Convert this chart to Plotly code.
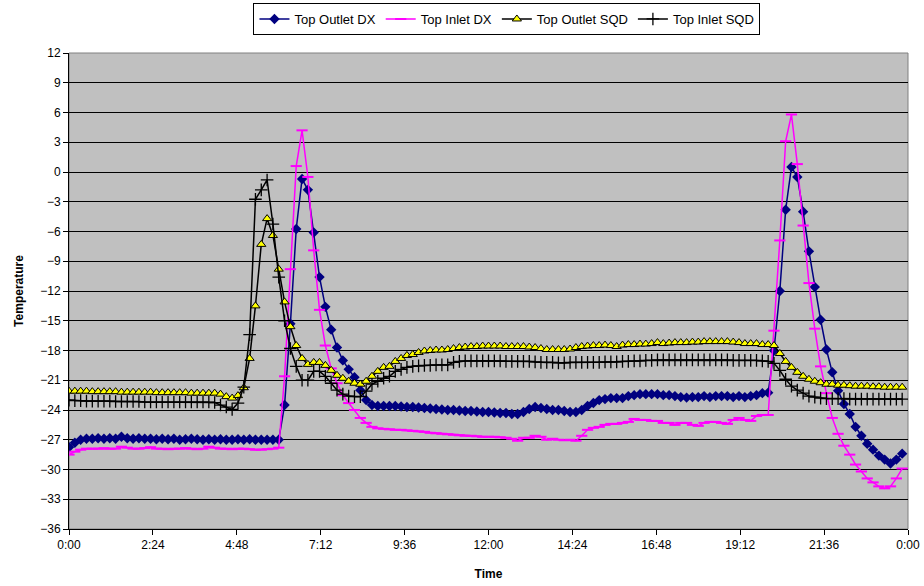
import plotly.graph_objects as go

# Time axis labels (hours -> label)
tick_hours = [0, 2.4, 4.8, 7.2, 9.6, 12.0, 14.4, 16.8, 19.2, 21.6, 24.0]
tick_labels = ["0:00", "2:24", "4:48", "7:12", "9:36", "12:00", "14:24", "16:48", "19:12", "21:36", "0:00"]

# samples every 10 minutes, 0:00 .. 23:50
times = [i * 10 / 60 for i in range(144)]

top_outlet_dx = [
    -27.75, -27.3, -27.0, -26.9, -26.9, -26.85, -26.9, -26.85, -26.9, -26.7,
    -26.85, -26.9, -26.85, -26.9, -26.9, -26.95, -26.9, -26.95, -26.9, -27.0,
    -26.95, -26.9, -26.95, -27.0, -26.95, -27.0, -26.95, -27.0, -27.0, -26.95,
    -27.0, -26.95, -27.0, -27.0, -27.0, -27.0, -27.0, -23.5, -15.3, -5.75,
    -0.7, -1.8, -6.1, -10.6, -13.6, -15.9, -17.7, -19.0, -19.9, -20.7,
    -22.0, -23.0, -23.5, -23.6, -23.6, -23.6, -23.6, -23.65, -23.7, -23.7,
    -23.75, -23.8, -23.85, -23.9, -23.95, -24.0, -24.0, -24.05, -24.1, -24.1,
    -24.15, -24.2, -24.2, -24.25, -24.3, -24.3, -24.4, -24.4, -24.2, -23.9,
    -23.7, -23.8, -23.9, -24.0, -24.0, -24.1, -24.2, -24.2, -24.0, -23.6,
    -23.3, -23.0, -22.9, -22.8, -22.8, -22.8, -22.6, -22.5, -22.4, -22.4,
    -22.4, -22.4, -22.5, -22.5, -22.6, -22.7, -22.75, -22.7, -22.7, -22.6,
    -22.7, -22.6, -22.6, -22.6, -22.7, -22.6, -22.7, -22.6, -22.5, -22.3,
    -22.25, -18.0, -12.0, -3.8, 0.5, -0.5, -4.0, -8.0, -11.6, -14.9,
    -17.9, -20.2, -22.05, -23.4, -24.4, -25.7, -26.6, -27.4, -28.0, -28.6,
    -29.0, -29.4, -29.0, -28.4,
]

top_inlet_dx = [
    -28.5, -28.2, -28.0, -27.9, -27.9, -27.9, -27.85, -27.9, -27.9, -27.7,
    -27.8, -27.9, -27.9, -27.85, -27.75, -27.9, -27.9, -27.95, -27.9, -27.9,
    -27.85, -27.9, -27.95, -27.9, -27.7, -27.8, -27.9, -27.9, -27.95, -27.9,
    -27.9, -27.95, -28.0, -28.0, -27.95, -27.9, -27.8, -20.6, -9.8, 0.6,
    4.2, -0.5, -7.9, -13.9, -17.5, -19.8, -21.3, -22.5, -23.3, -24.0,
    -24.8, -25.3, -25.7, -25.85, -25.9, -25.95, -26.0, -26.0, -26.05, -26.1,
    -26.15, -26.2, -26.3, -26.35, -26.4, -26.45, -26.5, -26.55, -26.6, -26.6,
    -26.65, -26.7, -26.7, -26.7, -26.75, -26.8, -26.9, -27.1, -26.8, -26.8,
    -26.6, -26.7, -27.0, -26.9, -27.0, -27.05, -27.0, -27.1, -26.6, -26.0,
    -25.8, -25.7, -25.5, -25.4, -25.4, -25.3, -25.2, -24.9, -25.0, -25.0,
    -25.1, -25.1, -25.3, -25.3, -25.5, -25.3, -25.3, -25.5, -25.6, -25.3,
    -25.2, -25.2, -25.3, -25.4, -25.0, -24.8, -25.0, -25.1, -24.6, -24.5,
    -24.5, -16.0, -6.9, 3.1, 5.8, 0.8, -5.4, -11.2, -15.8, -19.6,
    -22.3, -24.8, -26.4, -27.6, -28.5, -29.5, -30.2, -30.9, -31.3, -31.7,
    -31.9, -31.7, -30.9, -29.9,
]

top_outlet_sqd = [
    -22.1, -22.1, -22.1, -22.1, -22.15, -22.15, -22.15, -22.15, -22.15, -22.2,
    -22.2, -22.2, -22.2, -22.2, -22.2, -22.25, -22.25, -22.25, -22.25, -22.25,
    -22.25, -22.3, -22.3, -22.3, -22.3, -22.3, -22.4, -22.65, -22.8, -22.55,
    -21.75, -18.8, -13.5, -7.3, -4.7, -6.4, -9.8, -13.1, -15.6, -17.5,
    -18.8, -19.4, -19.2, -19.2, -19.5, -20.0, -20.5, -20.8, -21.1, -21.3,
    -21.4, -21.1, -20.6, -20.1, -19.7, -19.6, -19.1, -18.8, -18.5, -18.4,
    -18.2, -18.05, -18.0, -17.95, -17.95, -17.9, -17.8, -17.7, -17.65, -17.6,
    -17.6, -17.55, -17.55, -17.55, -17.55, -17.6, -17.6, -17.6, -17.6, -17.65,
    -17.7, -17.8, -17.9, -17.9, -17.9, -17.9, -17.85, -17.7, -17.6, -17.55,
    -17.5, -17.5, -17.45, -17.5, -17.6, -17.45, -17.4, -17.4, -17.35, -17.35,
    -17.3, -17.2, -17.3, -17.25, -17.2, -17.2, -17.2, -17.15, -17.15, -17.1,
    -17.1, -17.1, -17.1, -17.1, -17.15, -17.2, -17.3, -17.3, -17.3, -17.4,
    -17.4, -17.5, -18.3, -19.1, -19.7, -20.2, -20.6, -20.9, -21.1, -21.25,
    -21.4, -21.4, -21.5, -21.5, -21.55, -21.6, -21.6, -21.6, -21.65, -21.65,
    -21.7, -21.7, -21.7, -21.7,
]

top_inlet_sqd = [
    -23.0, -23.05, -23.05, -23.1, -23.1, -23.1, -23.1, -23.1, -23.15, -23.15,
    -23.15, -23.15, -23.15, -23.2, -23.2, -23.2, -23.2, -23.2, -23.2, -23.2,
    -23.2, -23.2, -23.2, -23.2, -23.2, -23.25, -23.5, -23.7, -23.95, -23.3,
    -21.7, -16.4, -2.75, -1.8, -0.8, -5.25, -10.6, -15.0, -17.8, -19.6,
    -21.0, -21.0, -20.1, -20.1, -20.6, -21.3, -22.0, -22.4, -22.6, -22.65,
    -22.65, -22.1, -21.4, -21.1, -20.8, -20.6, -20.1, -19.9, -19.7, -19.6,
    -19.55, -19.5, -19.5, -19.45, -19.45, -19.45, -19.2, -19.1, -19.05, -19.05,
    -19.05, -19.05, -19.05, -19.05, -19.05, -19.1, -19.1, -19.1, -19.1, -19.1,
    -19.15, -19.2, -19.2, -19.2, -19.25, -19.25, -19.2, -19.2, -19.2, -19.2,
    -19.2, -19.2, -19.15, -19.15, -19.15, -19.1, -19.1, -19.05, -19.05, -19.0,
    -19.0, -18.95, -18.95, -18.95, -18.95, -18.95, -18.95, -18.95, -18.95, -18.95,
    -18.95, -18.95, -18.95, -18.95, -19.0, -19.0, -19.0, -19.0, -19.0, -19.05,
    -19.1, -19.3, -20.0, -20.9, -21.6, -22.0, -22.3, -22.6, -22.7, -22.8,
    -22.85, -22.85, -22.85, -22.85, -22.9, -22.9, -22.9, -22.9, -22.9, -22.9,
    -22.9, -22.9, -22.9, -22.9,
]

FONT = "Liberation Sans, Arial, sans-serif"

fig = go.Figure()
fig.add_trace(go.Scatter(
    x=times, y=top_outlet_dx, name="Top Outlet DX", mode="lines+markers",
    line=dict(color="#000080", width=1.5),
    marker=dict(symbol="diamond", size=8, color="#000080"),
))
fig.add_trace(go.Scatter(
    x=times, y=top_inlet_dx, name="Top Inlet DX", mode="lines+markers",
    line=dict(color="#FF00FF", width=1.5),
    marker=dict(symbol="line-ew", size=8, color="#FF00FF",
                line=dict(color="#FF00FF", width=2)),
))
fig.add_trace(go.Scatter(
    x=times, y=top_outlet_sqd, name="Top Outlet SQD", mode="lines+markers",
    line=dict(color="#000000", width=1.5),
    marker=dict(symbol="triangle-up", size=8, color="#FFFF00",
                line=dict(color="#000000", width=1)),
))
fig.add_trace(go.Scatter(
    x=times, y=top_inlet_sqd, name="Top Inlet SQD", mode="lines+markers",
    line=dict(color="#000000", width=1.5),
    marker=dict(symbol="cross-thin", size=9, color="#000000",
                line=dict(color="#000000", width=1.3)),
))

fig.update_layout(
    width=924, height=586,
    margin=dict(l=68.5, r=15.5, t=53, b=57, autoexpand=False),
    paper_bgcolor="white",
    plot_bgcolor="#C0C0C0",
    font=dict(family=FONT, size=11, color="black"),
    showlegend=True,
    legend=dict(
        orientation="h", x=0.522, xanchor="center", y=1.105, yanchor="top",
        bordercolor="black", borderwidth=1, bgcolor="white",
        font=dict(family=FONT, size=13), itemwidth=30, tracegroupgap=0,
    ),
    xaxis=dict(
        range=[0, 24], tickmode="array", tickvals=tick_hours, ticktext=tick_labels,
        showgrid=False, zeroline=False, showline=True, linecolor="black", linewidth=1,
        ticks="outside", ticklen=5, tickcolor="black",
        title=dict(text="<b>Time</b>", font=dict(family=FONT, size=12), standoff=18),
        tickfont=dict(family=FONT, size=12),
    ),
    yaxis=dict(
        range=[-36, 12], dtick=3, tick0=0,
        showgrid=True, gridcolor="black", gridwidth=1, zeroline=False,
        showline=True, linecolor="black", linewidth=1,
        ticks="outside", ticklen=5, tickcolor="black",
        title=dict(text="<b>Temperature</b>", font=dict(family=FONT, size=12), standoff=14),
        tickfont=dict(family=FONT, size=12),
    ),
    shapes=[dict(type="rect", xref="paper", yref="paper", x0=0, x1=1, y0=0, y1=1,
                 line=dict(color="#808080", width=1), layer="below")],
)

fig.write_html("out.html")
